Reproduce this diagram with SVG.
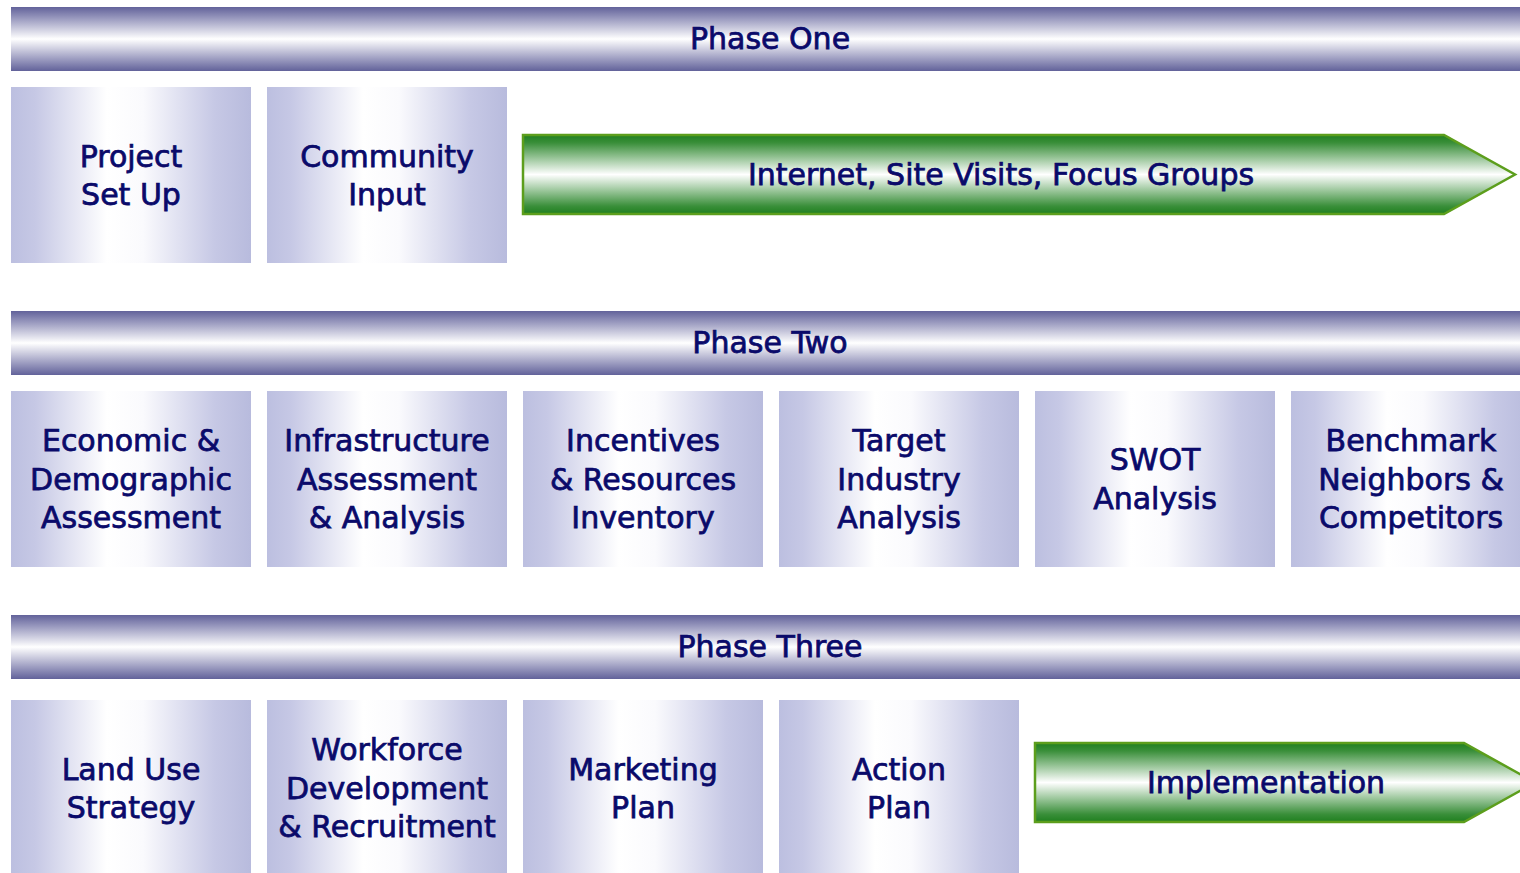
<svg xmlns="http://www.w3.org/2000/svg" width="1520" height="873" viewBox="0 0 1520 873">
<defs>
<linearGradient id="bar" x1="0" y1="0" x2="0" y2="1">
<stop offset="0" stop-color="#62629a"/>
<stop offset="0.18" stop-color="#9a9abf"/>
<stop offset="0.5" stop-color="#ffffff"/>
<stop offset="0.82" stop-color="#9a9abf"/>
<stop offset="1" stop-color="#62629a"/>
</linearGradient>
<linearGradient id="box" x1="0" y1="0" x2="1" y2="0">
<stop offset="0" stop-color="#bcbfe0"/>
<stop offset="0.1" stop-color="#c6c8e5"/>
<stop offset="0.4" stop-color="#ffffff"/>
<stop offset="0.55" stop-color="#fafafd"/>
<stop offset="0.85" stop-color="#c6c8e5"/>
<stop offset="1" stop-color="#b8bbdd"/>
</linearGradient>
<linearGradient id="green" x1="0" y1="0" x2="0" y2="1">
<stop offset="0" stop-color="#1f7f1f"/>
<stop offset="0.1" stop-color="#3a8f3a"/>
<stop offset="0.5" stop-color="#ffffff"/>
<stop offset="0.9" stop-color="#3a8f3a"/>
<stop offset="1" stop-color="#1f7f1f"/>
</linearGradient>
</defs>
<style>
.bar{fill:url(#bar)}
.box{fill:url(#box)}
.arrow{fill:url(#green);stroke:#5c9e1c;stroke-width:2.5}
text{font-family:"DejaVu Sans","Liberation Sans",sans-serif;font-size:30px;fill:#0a0a6a;stroke:#0a0a6a;stroke-width:0.75;text-anchor:middle}
</style>
<g id="phase1"><rect class="bar" x="11" y="7" width="1509" height="64"/><text x="770" y="49">Phase One</text></g>
<g id="project-setup"><rect class="box" x="11" y="87" width="240" height="176"/><text x="131" y="167">Project</text><text x="131" y="205">Set Up</text></g>
<g id="community-input"><rect class="box" x="267" y="87" width="240" height="176"/><text x="387" y="167">Community</text><text x="387" y="205">Input</text></g>
<g id="internet"><polygon class="arrow" points="523,135 1444,135 1515,174.5 1444,214 523,214"/><text x="1001" y="185">Internet, Site Visits, Focus Groups</text></g>

<g id="phase2"><rect class="bar" x="11" y="311" width="1509" height="64"/><text x="770" y="353">Phase Two</text></g>
<g id="economic"><rect class="box" x="11" y="391" width="240" height="176"/><text x="131" y="451">Economic &amp;</text><text x="131" y="490">Demographic</text><text x="131" y="528">Assessment</text></g>
<g id="infrastructure"><rect class="box" x="267" y="391" width="240" height="176"/><text x="387" y="451">Infrastructure</text><text x="387" y="490">Assessment</text><text x="387" y="528">&amp; Analysis</text></g>
<g id="incentives"><rect class="box" x="523" y="391" width="240" height="176"/><text x="643" y="451">Incentives</text><text x="643" y="490">&amp; Resources</text><text x="643" y="528">Inventory</text></g>
<g id="target"><rect class="box" x="779" y="391" width="240" height="176"/><text x="899" y="451">Target</text><text x="899" y="490">Industry</text><text x="899" y="528">Analysis</text></g>
<g id="swot"><rect class="box" x="1035" y="391" width="240" height="176"/><text x="1155" y="470">SWOT</text><text x="1155" y="509">Analysis</text></g>
<g id="benchmark"><rect class="box" x="1291" y="391" width="240" height="176"/><text x="1411" y="451">Benchmark</text><text x="1411" y="490">Neighbors &amp;</text><text x="1411" y="528">Competitors</text></g>

<g id="phase3"><rect class="bar" x="11" y="615" width="1509" height="64"/><text x="770" y="657">Phase Three</text></g>
<g id="land-use"><rect class="box" x="11" y="700" width="240" height="176"/><text x="131" y="780">Land Use</text><text x="131" y="818">Strategy</text></g>
<g id="workforce"><rect class="box" x="267" y="700" width="240" height="176"/><text x="387" y="760">Workforce</text><text x="387" y="799">Development</text><text x="387" y="837">&amp; Recruitment</text></g>
<g id="marketing"><rect class="box" x="523" y="700" width="240" height="176"/><text x="643" y="780">Marketing</text><text x="643" y="818">Plan</text></g>
<g id="action"><rect class="box" x="779" y="700" width="240" height="176"/><text x="899" y="780">Action</text><text x="899" y="818">Plan</text></g>
<g id="implementation"><polygon class="arrow" points="1035,743 1464,743 1535,782.5 1464,822 1035,822"/><text x="1266" y="793">Implementation</text></g>
<g id="connectors"></g>
</svg>
